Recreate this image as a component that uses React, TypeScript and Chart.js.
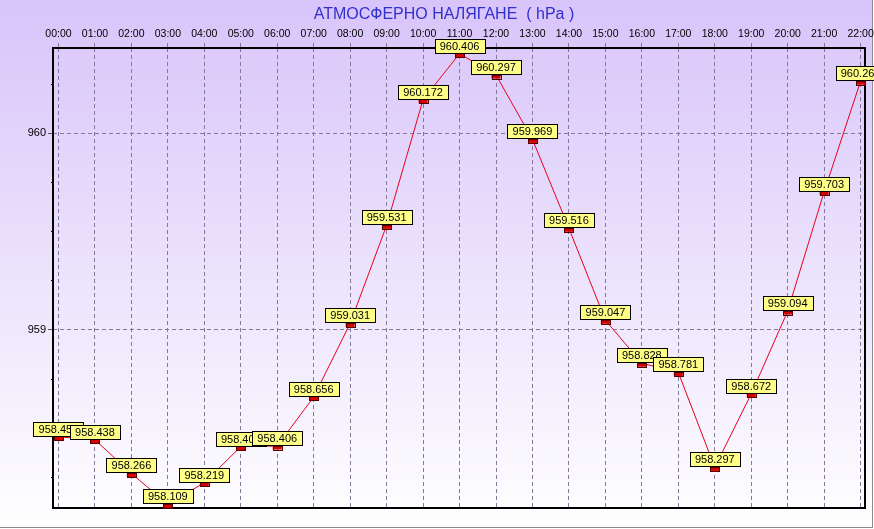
import React, { useEffect, useRef } from 'react';
import { Chart, registerables } from 'chart.js';

Chart.register(...registerables);

const titleText = 'АТМОСФЕРНО НАЛЯГАНЕ  ( hPa )';
const hours = [
  '00:00', '01:00', '02:00', '03:00', '04:00', '05:00', '06:00', '07:00',
  '08:00', '09:00', '10:00', '11:00', '12:00', '13:00', '14:00', '15:00',
  '16:00', '17:00', '18:00', '19:00', '20:00', '21:00', '22:00',
];
const pressure = [
  958.453, 958.438, 958.266, 958.109, 958.219, 958.403, 958.406, 958.656,
  959.031, 959.531, 960.172, 960.406, 960.297, 959.969, 959.516, 959.047,
  958.828, 958.781, 958.297, 958.672, 959.094, 959.703, 960.266,
];
const yLabelTicks = [959, 960];

const FONT = '"Liberation Sans", Arial, sans-serif';

const isMajor = (v: number) => yLabelTicks.includes(Math.round(v * 1000) / 1000);

const decor = {
  id: 'decor',
  beforeDraw(chart: any) {
    const { ctx, width, height } = chart;
    ctx.save();
    const g = ctx.createLinearGradient(0, 0, 0, height);
    g.addColorStop(0, '#d9c4fa');
    g.addColorStop(0.3, '#e3d6fb');
    g.addColorStop(1, '#ffffff');
    ctx.fillStyle = g;
    ctx.fillRect(0, 0, width, height);
    ctx.fillStyle = '#ffffff';
    ctx.fillRect(width - 1, 0, 1, height);
    ctx.fillRect(0, height - 1, width, 1);
    ctx.fillStyle = '#8c8c8c';
    ctx.fillRect(width - 2, 0, 1, height - 1);
    ctx.fillRect(0, height - 2, width - 1, 1);
    ctx.font = `16px ${FONT}`;
    ctx.fillStyle = '#3030cc';
    ctx.textAlign = 'center';
    ctx.textBaseline = 'middle';
    ctx.fillText(titleText, width / 2 + 7, 15);
    ctx.restore();
  },
  beforeDatasetsDraw(chart: any) {
    const { ctx, chartArea: a } = chart;
    const ys = chart.scales.y;
    ctx.save();
    ctx.strokeStyle = '#000000';
    ctx.lineWidth = 1;
    ys.ticks.forEach((t: any) => {
      if (!isMajor(t.value)) {
        const py = Math.round(ys.getPixelForValue(t.value)) + 0.5;
        ctx.beginPath();
        ctx.moveTo(a.left - 2, py);
        ctx.lineTo(a.left, py);
        ctx.stroke();
      }
    });
    ctx.lineWidth = 2;
    ctx.strokeRect(a.left, a.top, a.right - a.left, a.bottom - a.top);
    ctx.restore();
  },
  afterDatasetsDraw(chart: any) {
    const { ctx } = chart;
    const meta = chart.getDatasetMeta(0);
    ctx.save();
    ctx.font = `11px ${FONT}`;
    ctx.textAlign = 'center';
    ctx.textBaseline = 'middle';
    meta.data.forEach((pt: any, i: number) => {
      const x = pt.x;
      const y = pt.y;
      // marker
      ctx.fillStyle = '#d40000';
      ctx.fillRect(x - 4.5, y - 0.5, 9, 4);
      ctx.strokeStyle = '#5a0000';
      ctx.lineWidth = 1;
      ctx.strokeRect(Math.round(x - 4.5) + 0.5, Math.round(y - 0.5) + 0.5, 9, 4);
      // label box
      const bx = Math.round(x - 25) + 0.5;
      const by = Math.round(y - 15) + 0.5;
      ctx.fillStyle = '#ffff88';
      ctx.fillRect(bx, by, 50, 14);
      ctx.strokeStyle = '#000000';
      ctx.strokeRect(bx, by, 50, 14);
      ctx.fillStyle = '#000000';
      ctx.fillText(pressure[i].toFixed(3), x, by + 7.5);
    });
    ctx.restore();
  },
};

export default function App() {
  const ref = useRef<HTMLCanvasElement | null>(null);

  useEffect(() => {
    document.body.style.margin = '0';
    if (!ref.current) return;
    const data = pressure.map((v, i) => ({ x: i, y: v }));
    const chart = new Chart(ref.current, {
      type: 'line',
      data: {
        datasets: [
          {
            data,
            borderColor: '#e8001c',
            borderWidth: 1,
            pointRadius: 0,
            pointHoverRadius: 0,
            tension: 0,
            fill: false,
            clip: false as any,
          },
        ],
      },
      options: {
        animation: false,
        responsive: true,
        maintainAspectRatio: false,
        events: [],
        layout: { padding: { top: 0, left: 0, right: 9, bottom: 21 } },
        plugins: {
          legend: { display: false },
          tooltip: { enabled: false },
          title: { display: false },
        },
        scales: {
          x: {
            type: 'linear',
            position: 'top',
            min: -0.15,
            max: 22.12,
            afterFit: (s: any) => {
              s.height = 48;
              s.paddingLeft = 0;
              s.paddingRight = 0;
            },
            ticks: {
              stepSize: 1,
              includeBounds: false,
              autoSkip: false,
              maxRotation: 0,
              padding: 3,
              color: '#000000',
              font: { family: FONT, size: 10.5 },
              callback: (v: any) => {
                const n = Math.round(Number(v));
                return Math.abs(Number(v) - n) < 1e-6 && hours[n] ? hours[n] : '';
              },
            },
            grid: {
              color: '#85799a',
              lineWidth: 1,
              tickLength: 5,
              tickBorderDash: [4, 3],
            },
            border: { display: false, dash: [4, 3] },
          },
          y: {
            type: 'linear',
            min: 958.09,
            max: 960.435,
            afterFit: (s: any) => {
              s.width = 53;
              s.paddingTop = 0;
              s.paddingBottom = 0;
            },
            ticks: {
              stepSize: 0.25,
              includeBounds: false,
              autoSkip: false,
              padding: 2,
              color: '#000000',
              font: { family: FONT, size: 11 },
              callback: (v: any) => (isMajor(Number(v)) ? String(Math.round(Number(v))) : ''),
            },
            grid: {
              color: (c: any) => (c.tick && isMajor(c.tick.value) ? '#85799a' : 'rgba(0,0,0,0)'),
              tickColor: (c: any) => (c.tick && isMajor(c.tick.value) ? '#555555' : 'rgba(0,0,0,0)'),
              lineWidth: 1,
              tickLength: 5,
            },
            border: { display: false, dash: [4, 3] },
          },
        },
      },
      plugins: [decor],
    });
    return () => chart.destroy();
  }, []);

  return (
    <div style={{ width: 874, height: 529, position: 'relative' }}>
      <canvas ref={ref} />
    </div>
  );
}
